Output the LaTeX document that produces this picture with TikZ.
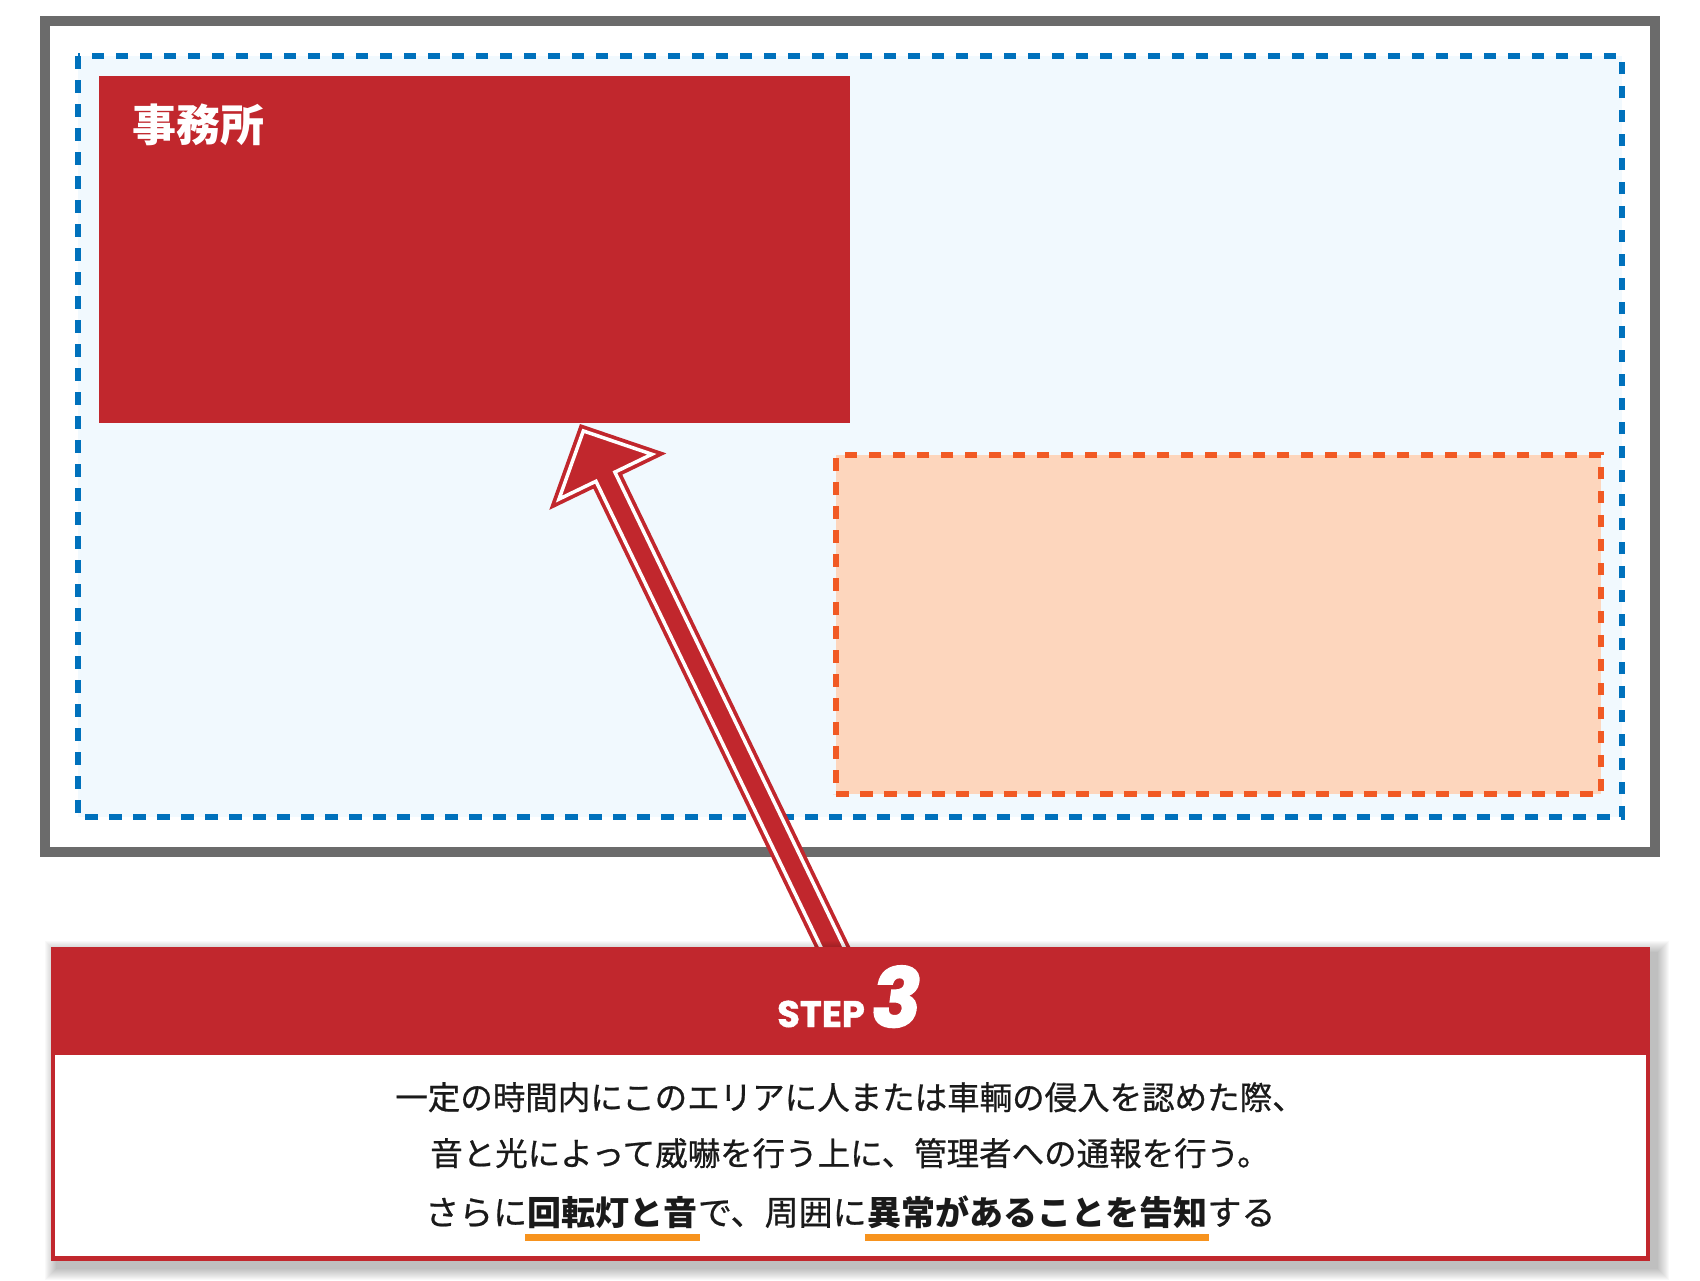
\documentclass[tikz,border=0pt]{standalone}
\usepackage{fontspec}
\newfontfamily\jp{Noto Sans CJK JP}
\newfontfamily\jpbody{Noto Sans CJK JP}[FakeBold=0.7]
\newfontfamily\popp{Poppins}[FakeBold=1.2]
\newfontfamily\poppsl{Poppins}[FakeSlant=0.14,FakeBold=2]
\definecolor{cardred}{HTML}{C1272D}
\definecolor{framegray}{HTML}{6B6B6B}
\definecolor{dashblue}{HTML}{0071BC}
\definecolor{paleblue}{HTML}{F1F9FE}
\definecolor{dashorange}{HTML}{F15A24}
\definecolor{peach}{HTML}{FDD6BD}
\definecolor{ulorange}{HTML}{F7931E}
\definecolor{inktext}{HTML}{1A1A1A}
\tikzset{
  frameline/.style={draw=framegray, line width=10pt},
  bluezone/.style={draw=dashblue, fill=paleblue, line width=6.5pt, dash pattern=on 12.5pt off 11.5pt},
  orangezone/.style={rectangle, draw=dashorange, fill=peach, line width=6pt, dash pattern=on 12.5pt off 11.5pt, inner sep=0pt, outer sep=0pt},
  officebox/.style={rectangle, fill=cardred, inner sep=0pt, outer sep=0pt},
  jpwhite/.style={text=white, inner sep=0pt, font=\jp\bfseries\fontsize{44pt}{50pt}\selectfont},
  bodytext/.style={text=inktext, inner sep=0pt, font=\jpbody\fontsize{32.5pt}{39pt}\selectfont},
  bodythree/.style={text=inktext, inner sep=0pt, anchor=base west, font=\jpbody\fontsize{34pt}{40pt}\selectfont},
  boldpart/.style={bodythree, font=\jp\bfseries\fontsize{34pt}{40pt}\selectfont},
  ulline/.style={draw=ulorange, line width=7pt},
  cardpart/.style={rectangle, anchor=north west, inner sep=0pt, outer sep=0pt},
}
\begin{document}
\begin{tikzpicture}[x=1pt,y=-1pt]
\useasboundingbox (0,0) rectangle (1700,1280);
% outer frame
\draw[frameline] (45,21) rectangle (1655,852);
% blue zone
\draw[bluezone] (78,56) rectangle (1622,817);
% office
\node[officebox, anchor=north west, minimum width=751.5pt, minimum height=347pt] (office) at (98.5,76) {};
\node[jpwhite, anchor=base west] (officelabel) at (132,141) {事務所};
% orange area
\node[orangezone, anchor=north west, minimum width=765pt, minimum height=339pt] (area) at (836,455) {};
% block arrow
\begin{scope}[shift={(580,424)}, rotate=-64.23]
\fill[cardred] (0,0) -- (64,65) -- (64,16) -- (600,16) -- (600,-16) -- (64,-16) -- (64,-65) -- cycle;
\draw[white, line width=3.5pt, line join=miter] (7.7,0) -- (58.5,51.6) -- (58.5,10.5) -- (600,10.5) -- (600,-10.5) -- (58.5,-10.5) -- (58.5,-51.6) -- cycle;
\end{scope}
% soft shadow of card
\foreach \i in {1,...,12}{
  \fill[black, opacity=0.022] ({51+6-\i},{947+6-\i}) rectangle ({1650+7+\i},{1261+7+\i});
}
% card
\node[cardpart, fill=cardred, minimum width=1599pt, minimum height=314pt] (card) at (51,947) {};
\node[cardpart, fill=white, minimum width=1591pt, minimum height=201pt] (cardbody) at (55,1055) {};
% header
\node[anchor=base west, text=white, inner sep=0pt, font=\popp\bfseries\fontsize{37pt}{42pt}\selectfont] (steplabel) at (777,1027) {STEP};
\node[anchor=base west, text=white, inner sep=0pt, font=\poppsl\bfseries\fontsize{82pt}{90pt}\selectfont] (stepnum) at ([xshift=3pt]steplabel.base east) {3};
% body text
\node[bodytext, anchor=base] (lineone) at (850,1109.5) {一定の時間内にこのエリアに人または車輌の侵入を認めた際、};
\node[bodytext, anchor=base] (linetwo) at (850,1165.5) {音と光によって威嚇を行う上に、管理者への通報を行う。};
\node[bodythree] (tha) at (425,1225) {さらに};
\node[boldpart] (thb) at (tha.base east) {回転灯と音};
\node[bodythree] (thc) at (thb.base east) {で、周囲に};
\node[boldpart] (thd) at (thc.base east) {異常があることを告知};
\node[bodythree] (the) at (thd.base east) {する};
\draw[ulline] ([xshift=-2pt,yshift=-12pt]thb.base west) -- ([xshift=2pt,yshift=-12pt]thb.base east);
\draw[ulline] ([xshift=-2pt,yshift=-12pt]thd.base west) -- ([xshift=2pt,yshift=-12pt]thd.base east);
\end{tikzpicture}
\end{document}
